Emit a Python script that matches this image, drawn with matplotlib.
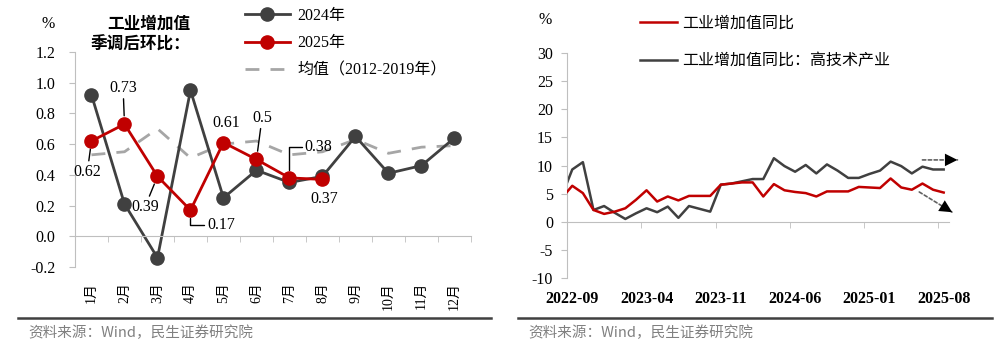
import numpy as np
import matplotlib
matplotlib.use('Agg')
import matplotlib.pyplot as plt
from matplotlib.lines import Line2D
from matplotlib.ticker import FormatStrFormatter

FONT = ['Liberation Serif', 'Noto Sans CJK SC']
plt.rcParams['font.family'] = FONT
plt.rcParams['axes.unicode_minus'] = False

# ---- left: 工业增加值季调后环比 (%)
months_cn = ['1月', '2月', '3月', '4月', '5月', '6月', '7月', '8月', '9月', '10月', '11月', '12月']
mom_2024 = [0.92, 0.21, -0.14, 0.95, 0.25, 0.43, 0.35, 0.39, 0.65, 0.41, 0.46, 0.64]
mom_2025 = [0.62, 0.73, 0.39, 0.17, 0.61, 0.50, 0.38, 0.37]
mom_avg = [0.53, 0.55, 0.70, 0.51, 0.60, 0.62, 0.53, 0.55, 0.63, 0.54, 0.58, 0.59]

# ---- right: 工业增加值同比 (%), monthly from 2022-08 to 2025-08
yoy_total = [4.2, 6.4, 5.1, 2.1, 1.4, 1.8, 2.4, 3.9, 5.6, 3.6, 4.5, 3.8, 4.6,
             4.6, 4.6, 6.6, 6.8, 7.0, 7.0, 4.5, 6.7, 5.6, 5.3, 5.1, 4.5,
             5.4, 5.4, 5.4, 6.2, 6.1, 6.0, 7.7, 6.1, 5.7, 6.8, 5.7, 5.2]
yoy_hightech = [4.5, 9.3, 10.6, 2.1, 2.8, 1.6, 0.5, 1.5, 2.4, 1.7, 2.7, 0.7, 2.8,
                2.3, 1.8, 6.6, 6.8, 7.2, 7.6, 7.6, 11.3, 9.9, 8.9, 10.1, 8.6,
                10.2, 9.1, 7.8, 7.8, 8.5, 9.1, 10.7, 9.9, 8.6, 9.8, 9.3, 9.3]
yoy_ticklabels = ['2022-09', '2023-04', '2023-11', '2024-06', '2025-01', '2025-08']

RED = '#c00000'
DARK = '#404040'
AXIS = '#bfbfbf'

fig = plt.figure(figsize=(10.04, 3.52), dpi=100)

# ================= left chart =================
ax1 = fig.add_axes([0.0747, 0.2415, 0.3944, 0.611])
x = np.arange(len(months_cn))
ax1.plot(x, mom_avg, color='#a6a6a6', lw=2, ls=(0, (5, 4)), label='均值（2012-2019年）', zorder=1)
ax1.plot(x, mom_2024, color=DARK, lw=2, marker='o', ms=9.5, label='2024年', zorder=2)
ax1.plot(x[:len(mom_2025)], mom_2025, color=RED, lw=2, marker='o', ms=9.5, label='2025年', zorder=3)

ax1.set_xlim(-0.5, 11.5)
ax1.set_ylim(-0.2, 1.2)
for s in ['top', 'right']:
    ax1.spines[s].set_visible(False)
ax1.spines['left'].set_color(AXIS)
ax1.spines['bottom'].set_color(AXIS)
ax1.spines['bottom'].set_position(('data', 0))
ax1.set_yticks(np.arange(-0.2, 1.21, 0.2))
ax1.yaxis.set_major_formatter(FormatStrFormatter('%.1f'))
ax1.tick_params(axis='y', length=4, color=AXIS, labelsize=11.5, pad=10)
ax1.set_xticks(x)
ax1.set_xticklabels(months_cn, rotation=90, fontsize=10)
ax1.tick_params(axis='x', which='major', length=0, pad=33)
ax1.set_xticks(np.arange(-0.5, 12, 1), minor=True)
ax1.tick_params(axis='x', which='minor', length=4, color=AXIS)

# data labels for 2025
label_offsets = [(-3, -22), (-1, 26), (-9, -22), (22, -11), (2, 14), (4, 30), (21, 22), (1, -14)]
label_conn = [None, None, None, 'angle,angleA=0,angleB=90', None, None, 'angle,angleA=0,angleB=90', None]
label_line = [True, True, True, True, False, True, True, False]
for i, v in enumerate(mom_2025):
    txt = ('%.2f' % v).rstrip('0') if v == 0.5 else '%.2f' % v
    props = None
    if label_line[i]:
        props = dict(arrowstyle='-', color='black', lw=1, shrinkA=0, shrinkB=6)
        if label_conn[i]:
            props['connectionstyle'] = label_conn[i]
    ax1.annotate(txt, xy=(i, v), xytext=label_offsets[i], textcoords='offset points',
                 ha='center', va='center', fontsize=11.5, arrowprops=props, zorder=5)

h = ax1.get_legend_handles_labels()[0]
ax1.legend([h[1], h[2], h[0]], ['2024年', '2025年', '均值（2012-2019年）'],
           loc='upper left', bbox_to_anchor=(0.244, 0.978), bbox_transform=fig.transFigure,
           frameon=False, fontsize=11.5, handlelength=2.8, handletextpad=0.5,
           labelspacing=0.72, borderpad=0, borderaxespad=0)

fig.text(48 / 1004, 1 - 24 / 352, '%', fontsize=11.5, ha='center', va='center')
fig.text(190 / 1004, 1 - 35 / 352, '工业增加值\n季调后环比：', fontsize=12, fontweight='bold',
         ha='right', va='center', multialignment='right', linespacing=1.35)

# ================= right chart =================
ax2 = fig.add_axes([0.5647, 0.2102, 0.3805, 0.639])
xm = np.arange(len(yoy_total)) - 1
ax2.plot(xm, yoy_hightech, color=DARK, lw=1.8, label='工业增加值同比：高技术产业', zorder=2)
ax2.plot(xm, yoy_total, color=RED, lw=1.8, label='工业增加值同比', zorder=3)
ax2.set_xlim(-0.5, 35.5)
ax2.set_ylim(-10, 30)
for s in ['top', 'right']:
    ax2.spines[s].set_visible(False)
ax2.spines['left'].set_color(AXIS)
ax2.spines['bottom'].set_color(AXIS)
ax2.spines['bottom'].set_position(('data', 0))
ax2.set_yticks(np.arange(-10, 31, 5))
ax2.tick_params(axis='y', length=4, color=AXIS, labelsize=11.5, pad=6)
ax2.set_xticks(np.arange(0, 36, 7))
ax2.set_xticklabels(yoy_ticklabels, fontsize=11.5, fontweight='bold')
ax2.tick_params(axis='x', which='major', length=0, pad=50)
ax2.set_xticks(np.arange(6.5, 36, 7), minor=True)
ax2.tick_params(axis='x', which='minor', length=4, color=AXIS)

# trend arrows: dashed shaft + solid head
trend_arrows = [((33.0, 11.0), (36.3, 11.0)), ((32.7, 5.3), (35.8, 1.7))]
for (xs, ys), (xe, ye) in trend_arrows:
    ax2.annotate('', xy=(xe, ye), xytext=(xs, ys), annotation_clip=False,
                 arrowprops=dict(arrowstyle='-', color='#606060', lw=1.2, ls=(0, (2, 1.5)),
                                 shrinkA=0, shrinkB=0))
    ax2.annotate('', xy=(xe, ye), xytext=(xe - (xe - xs) * 0.3, ye - (ye - ys) * 0.3),
                 annotation_clip=False,
                 arrowprops=dict(arrowstyle='-|>,head_length=0.9,head_width=0.45', color='black',
                                 lw=0.01, mutation_scale=10, shrinkA=0, shrinkB=0))

h2 = ax2.get_legend_handles_labels()[0]
ax2.legend([h2[1], h2[0]], ['工业增加值同比', '工业增加值同比：高技术产业'],
           loc='upper left', bbox_to_anchor=(640 / 1004, 0.955), bbox_transform=fig.transFigure,
           frameon=False, fontsize=11.5, handlelength=2.3, handletextpad=0.35,
           labelspacing=1.35, borderpad=0, borderaxespad=0)
fig.text(545 / 1004, 1 - 20 / 352, '%', fontsize=11.5, ha='center', va='center')

# footers
for x0, x1, tx in [(18, 491, 28), (518, 992, 528)]:
    fig.add_artist(Line2D([x0 / 1004, x1 / 1004], [1 - 318 / 352] * 2, color=DARK, lw=1.8))
    fig.text(tx / 1004, 1 - 333 / 352, '资料来源：Wind，民生证券研究院', color='#808080',
             fontsize=10.5, va='center', family=['Noto Sans CJK SC'])

fig.savefig('out.png', dpi=100)
